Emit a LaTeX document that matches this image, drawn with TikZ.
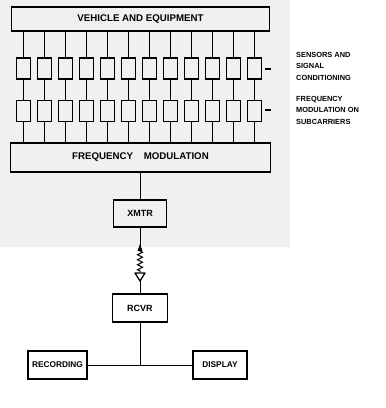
\documentclass[tikz,border=0pt]{standalone}
\usepackage{fontspec}
\setmainfont{Liberation Sans}
\usetikzlibrary{decorations.pathmorphing}
\begin{document}
\begin{tikzpicture}[x=1pt,y=-1pt,
  blk/.style={draw,line width=1.1pt,inner sep=0pt,font=\bfseries\fontsize{9}{10}\selectfont},
  cell/.style={draw,line width=1.1pt,minimum width=13.5pt,minimum height=21pt,inner sep=0pt},
  wire/.style={line width=1pt},
  lbl/.style={font=\bfseries\fontsize{7.4}{11.5}\selectfont,align=left,anchor=north west,inner sep=0pt}]
\useasboundingbox (0,0) rectangle (386,408);
\fill[gray!12] (0,0) rectangle (290,247);
% top and FM boxes
\node[blk,minimum width=258pt,minimum height=24pt,font=\bfseries\fontsize{9.7}{10}\selectfont] (veh) at (140.5,19) {VEHICLE AND EQUIPMENT};
\node[blk,minimum width=260pt,minimum height=29pt,font=\bfseries\fontsize{9.7}{10}\selectfont] (fm) at (140.5,157.5) {FREQUENCY\hspace{1.1em}MODULATION};
% columns
\foreach \i in {0,...,11}{
  \pgfmathsetmacro{\xx}{23.5+\i*21}
  \node[cell] (s\i) at (\xx,68.5) {};
  \node[cell] (f\i) at (\xx,111) {};
  \draw[wire] (s\i.north) -- (s\i.north |- veh.south);
  \draw[wire] (s\i.south) -- (f\i.north);
  \draw[wire] (f\i.south) -- (f\i.south |- fm.north);
}
% side marks and labels
\coordinate (m1a) at (265,69); \coordinate (m1b) at (271,69);
\coordinate (m2a) at (265,110); \coordinate (m2b) at (271,110);
\draw[line width=2pt] (m1a) -- (m1b);
\draw[line width=2pt] (m2a) -- (m2b);
\node[lbl] (lab1) at (296,52) {SENSORS AND\\SIGNAL\\CONDITIONING};
\node[lbl] (lab2) at (296,96) {FREQUENCY\\MODULATION ON\\SUBCARRIERS};
% transmitter chain
\node[blk,minimum width=53pt,minimum height=27pt] (xmtr) at (140,213.5) {XMTR};
\node[blk,minimum width=55pt,minimum height=28pt] (rcvr) at (140,308) {RCVR};
\node[blk,minimum width=59pt,minimum height=28pt,font=\bfseries\fontsize{8.3}{10}\selectfont] (rec) at (57.5,365) {RECORDING};
\node[blk,minimum width=54pt,minimum height=28pt,font=\bfseries\fontsize{8.3}{10}\selectfont] (disp) at (220,365) {DISPLAY};
\draw[wire] (fm.south -| xmtr.north) -- (xmtr.north);
\coordinate (a0) at (140,247);
\coordinate (a1) at (140,251);
\coordinate (a2) at (140,272);
\coordinate (t1) at (135,273);
\coordinate (t2) at (145,273);
\coordinate (t3) at (140,281);
\coordinate (jn) at (140,365);
\draw[wire] (xmtr.south) -- (a0);
\fill (137.5,251) -- (142.5,251) -- (140,244) -- cycle;
\draw[wire,decorate,decoration={zigzag,segment length=5pt,amplitude=2.5pt}] (a1) -- (a2);
\draw[line width=1.3pt,line join=round] (t1) -- (t2) -- (t3) -- cycle;
\draw[wire] (t3) -- (rcvr.north);
\draw[wire] (rcvr.south) -- (jn);
\draw[wire] (rec.east) -- (disp.west);
\end{tikzpicture}
\end{document}
